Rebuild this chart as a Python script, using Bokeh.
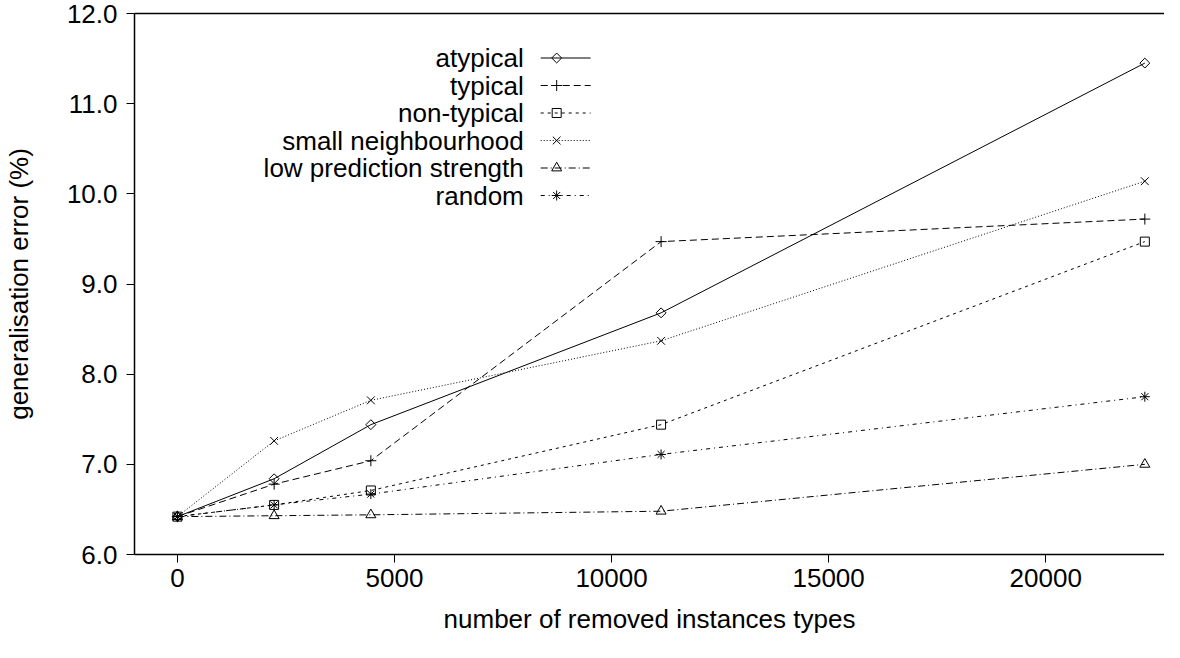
import math
from bokeh.plotting import figure
from bokeh.models import Range1d, FixedTicker, LinearAxis, Label, NumeralTickFormatter
from bokeh.embed import file_html
from bokeh.resources import INLINE

# ---- data ----
x_removed = [0, 2228, 4456, 11141, 22283]
atypical = [6.42, 6.84, 7.44, 8.68, 11.45]
typical = [6.42, 6.78, 7.04, 9.47, 9.72]
non_typical = [6.42, 6.55, 6.71, 7.44, 9.47]
small_neigh = [6.42, 7.26, 7.71, 8.37, 10.14]
low_pred = [6.42, 6.43, 6.44, 6.48, 7.00]
random_sel = [6.42, 6.55, 6.67, 7.11, 7.75]
series_names = ["atypical", "typical", "non-typical", "small neighbourhood",
                "low prediction strength", "random"]
x_ticks = [0, 5000, 10000, 15000, 20000]
y_ticks = [6, 7, 8, 9, 10, 11, 12]

# ---- layout ----
W, H = 1164, 642
ML, MT, MB, MR = 132, 13, 88, 0
X0, X1 = -988, 22736
Y0, Y1 = 6.0, 12.0
FONT = "Liberation Sans"
FS = "26px"

p = figure(width=W, height=H, output_backend="svg", toolbar_location=None,
           x_range=Range1d(X0, X1), y_range=Range1d(Y0, Y1),
           min_border_left=ML, min_border_top=MT, min_border_bottom=MB,
           min_border_right=MR)
p.outline_line_color = None
p.grid.visible = False
p.background_fill_color = "white"
p.border_fill_color = "white"

for ax in (p.xaxis[0], p.yaxis[0]):
    ax.axis_line_color = "black"
    ax.axis_line_width = 1.5
    ax.major_tick_line_color = "black"
    ax.major_tick_line_width = 1
    ax.major_tick_in = 0
    ax.major_tick_out = 8
    ax.minor_tick_line_color = None
    ax.major_label_text_font = FONT
    ax.major_label_text_font_size = FS
    ax.major_label_text_color = "black"
    ax.axis_label_text_font = FONT
    ax.axis_label_text_font_size = FS
    ax.axis_label_text_font_style = "normal"
    ax.axis_label_text_color = "black"

p.xaxis[0].ticker = FixedTicker(ticks=x_ticks)
p.xaxis[0].axis_label = "number of removed instances types"
p.xaxis[0].major_label_standoff = 6
p.xaxis[0].axis_label_standoff = 14

p.yaxis[0].ticker = FixedTicker(ticks=y_ticks)
p.yaxis[0].formatter = NumeralTickFormatter(format="0.0")
p.yaxis[0].axis_label = "generalisation error (%)"
p.yaxis[0].major_label_standoff = 9
p.yaxis[0].axis_label_standoff = 30

top = LinearAxis(ticker=FixedTicker(ticks=[]), axis_line_color="black",
                 axis_line_width=1.5, major_tick_line_color=None,
                 minor_tick_line_color=None, major_label_text_font_size="0px",
                 major_tick_out=0, major_tick_in=0, major_label_standoff=0)
p.add_layout(top, "above")

# ---- series ----
styles = [
    (atypical, "solid", "square", 7, math.pi / 4),
    (typical, "7 4", "cross", 11, 0),
    (non_typical, "3 4", "square", 9, 0),
    (small_neigh, "1 2", "x", 11, 0),
    (low_pred, "7 3 1 3", "triangle", 10, 0),
    (random_sel, "4 4 1 4", "asterisk", 10, 0),
]

for ys, dash, mk, sz, ang in styles:
    p.line(x_removed, ys, line_color="black", line_width=1, line_dash=dash)
    p.scatter(x_removed, ys, marker=mk, size=sz, angle=ang,
              line_color="black", line_width=1, fill_color=None)

# ---- legend (text left of sample, as in reference) ----
FW = W - ML - MR
FH = H - MT - MB


def dx(px):
    return X0 + (px - 8 - ML) / FW * (X1 - X0)


def dy(py):
    return Y1 - (py - 8 - MT) / FH * (Y1 - Y0)


row0, row_step = 65.5, 27.5
for i, (name, st) in enumerate(zip(series_names, styles)):
    ys, dash, mk, sz, ang = st
    ry = dy(row0 + i * row_step)
    p.add_layout(Label(x=dx(530), y=ry, text=name, text_align="right",
                       text_baseline="middle", text_font=FONT,
                       text_font_size=FS, text_color="black"))
    p.line([dx(547), dx(597)], [ry, ry], line_color="black", line_width=1,
           line_dash=dash)
    p.scatter([dx(563)], [ry], marker=mk, size=sz, angle=ang,
              line_color="black", line_width=1, fill_color=None)

open("out.html", "w").write(file_html(p, INLINE))
